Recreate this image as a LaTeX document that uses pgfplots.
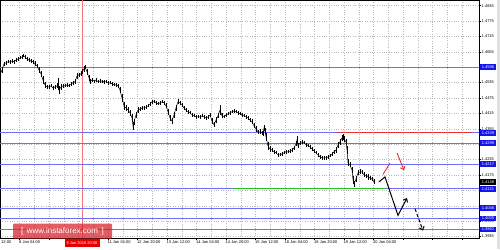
\documentclass[border=0pt]{standalone}
\usepackage{pgfplots}
\pgfplotsset{compat=1.18}
\usepackage{pgfplotstable}
\usepackage{fontspec}
\setmainfont{Liberation Sans}
\usetikzlibrary{arrows.meta}
\definecolor{lvl}{RGB}{110,110,250}
\definecolor{boxblue}{RGB}{20,20,235}
\definecolor{rline}{RGB}{232,50,50}
\definecolor{gline}{RGB}{40,190,40}
\definecolor{gridc}{RGB}{185,185,185}
\definecolor{vred}{RGB}{245,120,120}
\definecolor{wmred}{RGB}{215,30,40}

\pgfplotstableread{
x p e
0 1.4565 0.0010
2 1.4584 0.0010
4 1.4608 0.0008
6 1.4612 0.0008
8 1.4616 0.0006
10 1.4616 0.0008
12 1.4619 0.0006
14 1.4616 0.0008
16 1.4623 0.0006
18 1.4627 0.0008
20 1.4631 0.0006
22 1.4635 0.0008
23 1.4639 0.0006
25 1.4635 0.0008
27 1.4627 0.0008
29 1.4623 0.0006
31 1.4619 0.0008
33 1.4616 0.0008
35 1.4608 0.0010
37 1.4600 0.0008
39 1.4584 0.0012
41 1.4569 0.0012
43 1.4545 0.0014
45 1.4526 0.0012
47 1.4518 0.0008
49 1.4518 0.0008
51 1.4522 0.0006
53 1.4514 0.0008
55 1.4518 0.0008
57 1.4522 0.0010
58 1.4530 0.0022
59 1.4506 0.0016
61 1.4518 0.0010
63 1.4522 0.0008
65 1.4522 0.0006
67 1.4526 0.0008
69 1.4522 0.0006
71 1.4530 0.0008
73 1.4534 0.0008
75 1.4538 0.0010
77 1.4561 0.0012
79 1.4565 0.0008
81 1.4569 0.0010
82 1.4577 0.0010
84 1.4588 0.0010
85 1.4596 0.0008
87 1.4577 0.0012
89 1.4553 0.0012
90 1.4538 0.0010
92 1.4545 0.0008
94 1.4541 0.0006
96 1.4545 0.0008
98 1.4538 0.0006
100 1.4541 0.0008
102 1.4541 0.0006
104 1.4538 0.0008
106 1.4538 0.0006
108 1.4534 0.0008
110 1.4534 0.0006
112 1.4530 0.0008
114 1.4526 0.0006
116 1.4526 0.0008
118 1.4522 0.0008
120 1.4506 0.0012
122 1.4475 0.0016
124 1.4444 0.0014
126 1.4436 0.0010
128 1.4428 0.0010
130 1.4417 0.0012
132 1.4397 0.0014
133 1.4366 0.0016
134 1.4382 0.0012
136 1.4409 0.0012
138 1.4428 0.0010
140 1.4432 0.0008
142 1.4436 0.0008
144 1.4436 0.0006
146 1.4440 0.0008
148 1.4444 0.0006
150 1.4452 0.0008
152 1.4460 0.0008
154 1.4463 0.0006
156 1.4456 0.0008
158 1.4452 0.0006
160 1.4456 0.0008
162 1.4460 0.0006
164 1.4456 0.0008
166 1.4444 0.0010
168 1.4421 0.0012
170 1.4397 0.0012
172 1.4385 0.0010
174 1.4409 0.0012
176 1.4436 0.0012
178 1.4460 0.0010
180 1.4456 0.0008
182 1.4448 0.0008
184 1.4436 0.0008
186 1.4428 0.0006
188 1.4421 0.0008
190 1.4417 0.0006
192 1.4409 0.0008
194 1.4405 0.0006
196 1.4401 0.0008
198 1.4401 0.0006
200 1.4401 0.0008
202 1.4405 0.0006
204 1.4401 0.0008
206 1.4397 0.0006
208 1.4401 0.0008
210 1.4409 0.0008
212 1.4385 0.0012
214 1.4370 0.0010
216 1.4389 0.0010
218 1.4405 0.0010
220 1.4428 0.0020
222 1.4405 0.0010
224 1.4401 0.0006
226 1.4409 0.0008
228 1.4413 0.0006
230 1.4417 0.0008
232 1.4421 0.0006
234 1.4424 0.0008
236 1.4421 0.0006
238 1.4417 0.0008
240 1.4413 0.0006
242 1.4409 0.0008
244 1.4405 0.0006
246 1.4401 0.0008
248 1.4397 0.0008
250 1.4389 0.0008
252 1.4382 0.0010
254 1.4366 0.0010
256 1.4354 0.0010
258 1.4343 0.0008
260 1.4343 0.0010
262 1.4339 0.0008
263 1.4335 0.0010
264 1.4358 0.0012
265 1.4346 0.0010
266 1.4323 0.0014
268 1.4288 0.0014
270 1.4276 0.0010
272 1.4272 0.0008
274 1.4265 0.0008
276 1.4261 0.0006
278 1.4253 0.0008
280 1.4253 0.0006
282 1.4257 0.0008
284 1.4261 0.0006
286 1.4265 0.0008
288 1.4265 0.0006
290 1.4268 0.0008
292 1.4272 0.0008
294 1.4280 0.0008
296 1.4296 0.0010
297 1.4311 0.0016
298 1.4288 0.0010
300 1.4300 0.0008
302 1.4304 0.0008
304 1.4300 0.0006
306 1.4292 0.0008
308 1.4288 0.0006
310 1.4284 0.0008
312 1.4276 0.0008
314 1.4268 0.0008
316 1.4261 0.0006
318 1.4253 0.0008
320 1.4245 0.0008
322 1.4241 0.0006
324 1.4241 0.0008
326 1.4241 0.0006
328 1.4245 0.0008
330 1.4249 0.0006
332 1.4257 0.0008
334 1.4265 0.0008
336 1.4272 0.0010
338 1.4292 0.0012
340 1.4304 0.0012
342 1.4319 0.0012
343 1.4323 0.0010
344 1.4315 0.0010
346 1.4304 0.0012
347 1.4272 0.0016
348 1.4222 0.0014
350 1.4214 0.0010
352 1.4194 0.0012
353 1.4155 0.0016
354 1.4140 0.0012
356 1.4159 0.0010
358 1.4183 0.0010
360 1.4187 0.0010
362 1.4187 0.0008
364 1.4175 0.0010
366 1.4171 0.0008
368 1.4167 0.0010
370 1.4163 0.0008
372 1.4159 0.0008
374 1.4148 0.0010
}\price

\tikzset{pbox/.style={anchor=west, fill=boxblue, text=white, inner sep=0.6pt, minimum width=15.5pt, minimum height=5.5pt, font=\fontsize{4}{4}\selectfont}}

\begin{document}
\begin{tikzpicture}[x=1pt,y=1pt]
\begin{axis}[
  at={(0,0)}, anchor=south west,
  scale only axis, width=479pt, height=238pt,
  xmin=0, xmax=479, ymin=1.3929, ymax=1.4857,
  clip=false,
  axis background/.style={fill=white},
  axis line style={black, line width=0.4pt},
  tick align=outside, major tick length=2pt, minor tick length=0pt,
  tick style={black, line width=0.3pt},
  xtick pos=bottom, ytick pos=right, yticklabel pos=right,
  xtick={19.5,49,78.5,108,137.5,167,196.5,226,255.5,285,314.5,344,373.5,403,432.5,462},
  xticklabels={8 Jan 04:00,,,11 Jan 04:00,12 Jan 20:00,13 Jan 12:00,14 Jan 04:00,14 Jan 20:00,15 Jan 12:00,18 Jan 04:00,18 Jan 20:00,19 Jan 12:00,20 Jan 04:00,,,},
  xticklabel style={anchor=north west, font=\fontsize{4}{4}\selectfont, inner sep=0.5pt, xshift=-1pt, yshift=-0.5pt},
  ytick={1.3935,1.3995,1.4055,1.4115,1.4175,1.4235,1.4295,1.4355,1.4415,1.4475,1.4535,1.4595,1.4655,1.4715,1.4775,1.4835},
  yticklabels={1.3935,1.3995,,1.4115,1.4175,1.4235,,1.4355,1.4415,1.4475,1.4535,,1.4655,1.4715,1.4775,1.4835},
  yticklabel style={anchor=west, font=\fontsize{4}{4}\selectfont, inner sep=0.5pt},
  minor x tick num=1,
  grid=major, xminorgrids=true,
  grid style={gridc, dotted, line width=0.35pt},
  minor grid style={gridc, dotted, line width=0.35pt},
]
% vertical red line
\addplot[vred, line width=0.5pt] coordinates {(82,1.3929) (82,1.4857)};
% horizontal levels
\addplot[lvl, line width=0.8pt] coordinates {(0,1.4596) (479,1.4596)};
\addplot[lvl, line width=0.8pt] coordinates {(0,1.4339) (479,1.4339)};
\addplot[lvl, line width=0.8pt] coordinates {(0,1.4299) (479,1.4299)};
\addplot[lvl, line width=0.8pt] coordinates {(0,1.4217) (479,1.4217)};
\addplot[lvl, line width=0.8pt] coordinates {(0,1.4121) (479,1.4121)};
\addplot[lvl, line width=0.8pt] coordinates {(0,1.4046) (479,1.4046)};
\addplot[lvl, line width=0.8pt] coordinates {(0,1.4005) (479,1.4005)};
\addplot[lvl, line width=0.8pt] coordinates {(0,1.3962) (479,1.3962)};
\addplot[rline, line width=0.9pt] coordinates {(337,1.4339) (472,1.4339)};
\addplot[gline, line width=0.9pt] coordinates {(233,1.4121) (385,1.4121)};
% price
\addplot[black, line width=0.5pt,
  error bars/.cd, y dir=both, y explicit, error mark=none,
  error bar style={black, line width=0.45pt}]
  table[x=x, y=p, y error=e] {\price};
% forecast arrows
\addplot[black, line width=1pt, -{Straight Barb[length=3pt,width=5pt]}]
  coordinates {(379,1.4148) (385,1.4167) (398,1.4017) (407,1.4085)};
\addplot[black, line width=1pt, dash pattern=on 3.5pt off 2pt, -{Straight Barb[length=3pt,width=5pt]}]
  coordinates {(415,1.4043) (423,1.3958)};
\addplot[rline, line width=0.9pt] coordinates {(383,1.4177) (390,1.4221)};
\addplot[rline, line width=0.9pt, -{Straight Barb[length=3pt,width=5pt]}]
  coordinates {(397,1.4261) (404,1.4193)};
% anchors for labels
\coordinate (b1) at (axis cs:479,1.4596);
\coordinate (b2) at (axis cs:479,1.4339);
\coordinate (b3) at (axis cs:479,1.4299);
\coordinate (b4) at (axis cs:479,1.4217);
\coordinate (b5) at (axis cs:479,1.4121);
\coordinate (b6) at (axis cs:479,1.4046);
\coordinate (b7) at (axis cs:479,1.4005);
\coordinate (b8) at (axis cs:479,1.3962);
\coordinate (bk) at (axis cs:479,1.4148);
\coordinate (rt) at (axis cs:82,1.3929);
\coordinate (wm) at (axis cs:62.5,1.3956);
\end{axis}
\node[pbox, xshift=1pt] at (b1) {1.4596};
\node[pbox, xshift=1pt] at (b2) {1.4339};
\node[pbox, xshift=1pt] at (b3) {1.4299};
\node[pbox, xshift=1pt] at (b4) {1.4217};
\node[pbox, xshift=1pt] at (b5) {1.4121};
\node[pbox, xshift=1pt] at (b6) {1.4046};
\node[pbox, xshift=1pt] at (b7) {1.4005};
\node[pbox, xshift=1pt] at (b8) {1.3962};
\node[pbox, xshift=1pt, fill=black] at (bk) {1.4148};
\node[anchor=north, fill=red!90!black, text=white, inner sep=0.8pt, minimum width=35pt, minimum height=8pt, font=\fontsize{4}{4}\selectfont, yshift=-1pt] at (rt) {9 Jan 2018 20:00};
\node[fill=wmred, fill opacity=0.72, text opacity=1, text=white, rounded corners=1pt, minimum width=99pt, minimum height=15pt, inner sep=0pt, font=\fontsize{8}{8}\selectfont] at (wm) {[\, www.instaforex.com \,]};
\node[anchor=west, font=\fontsize{4}{4}\selectfont, inner sep=0.5pt] at (0.5,-4.5) {12:00};
\fill[gray!25] (497,-11) rectangle (500,238);
\pgfresetboundingbox
\path[use as bounding box] (0,-11) rectangle (500,238);
\end{tikzpicture}
\end{document}
